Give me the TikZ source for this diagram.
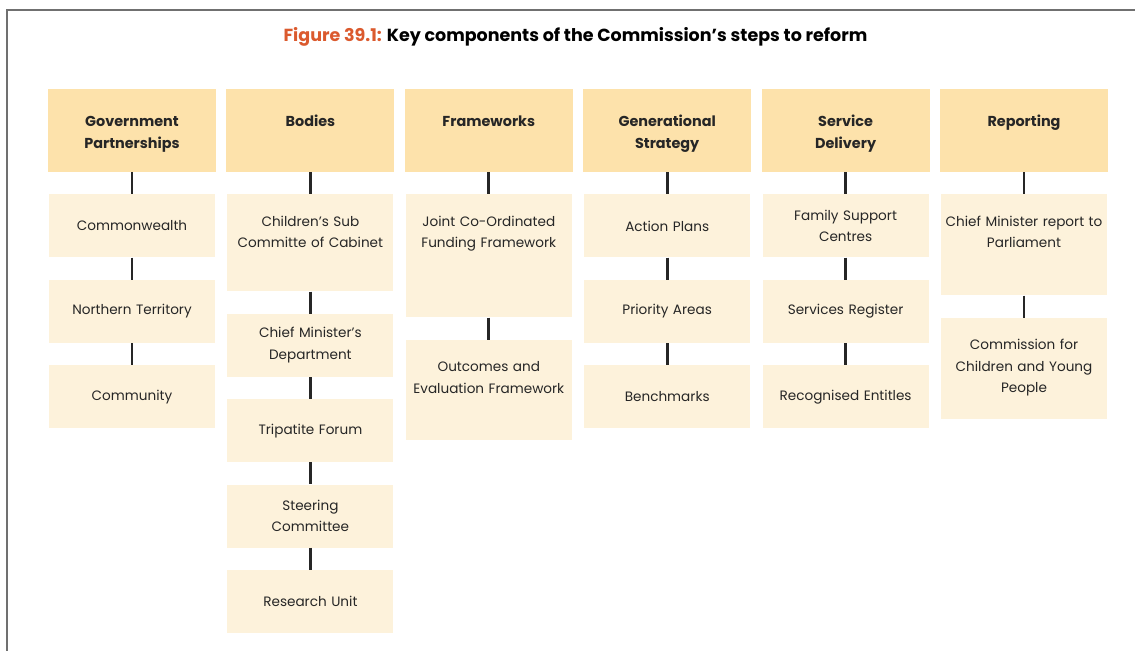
\documentclass[tikz,border=0pt]{standalone}
\usepackage{fontspec}
\setmainfont{Poppins}
\usetikzlibrary{positioning}

\definecolor{headfill}{HTML}{FDE2AB}
\definecolor{cellfill}{HTML}{FDF2DB}
\definecolor{inkgrey}{HTML}{262626}
\definecolor{figred}{HTML}{DB5A2E}
\definecolor{framegrey}{HTML}{707070}

\begin{document}
\begin{tikzpicture}[
  x=1pt, y=-1pt,
  font=\fontsize{13.6}{21.5}\selectfont,
  text=inkgrey,
  head/.style={fill=headfill, text width=166pt, minimum width=168pt,
               align=center, inner xsep=0pt, inner ysep=0pt,
               text height=37.5pt, text depth=45.5pt,
               font=\fontsize{14.4}{21.5}\selectfont\bfseries},
  cell/.style={fill=cellfill, text width=164pt, minimum width=166pt,
               minimum height=63pt, align=center,
               inner xsep=0pt, inner ysep=0pt},
  tallcell/.style={cell, minimum height=0pt, text height=32pt, text depth=#1},
  link/.style={draw=inkgrey, line width=2.8pt},
]

\fill[white] (0,0) rectangle (1135,651);
\useasboundingbox (0,0) rectangle (1135,651);

% frame and title
\draw[framegrey, line width=1.3pt] (1135,10) -- (7,10) -- (7,651);
\node[font=\fontsize{17.5}{20}\selectfont\bfseries, text=black] (title) at (575.5,37)
  {\textcolor{figred}{Figure 39.1:} Key components of the Commission’s steps to reform};

% Six heading boxes in a row
\node[head] (gov) at (132,130.5) {Government\\Partnerships};
\node[head, right=10pt of gov]  (bod) {Bodies};
\node[head, right=10pt of bod]  (fra) {Frameworks};
\node[head, right=10pt of fra]  (gen) {Generational\\Strategy};
\node[head, right=10pt of gen]  (ser) {Service\\Delivery};
\node[head, right=10pt of ser]  (rep) {Reporting};

% --- Government Partnerships ---
\node[cell, below=22pt of gov] (cwlth) {Commonwealth};
\node[cell, below=22pt of cwlth] (nt)  {Northern Territory};
\node[cell, below=22pt of nt]    (comm) {Community};

% --- Bodies ---
\node[tallcell=65pt, below=22pt of bod] (subc) {Children’s Sub\\Committe of Cabinet};
\node[cell, below=22pt of subc]  (cmd)   {Chief Minister’s\\Department};
\node[cell, below=22pt of cmd]   (tri)   {Tripatite Forum};
\node[cell, below=22pt of tri]   (steer) {Steering\\Committee};
\node[cell, below=22pt of steer] (resu)  {Research Unit};

% --- Frameworks ---
\node[tallcell=91pt, below=22pt of fra]  (jcff) {Joint Co-Ordinated\\Funding Framework};
\node[tallcell=68pt, below=22pt of jcff] (oef)  {Outcomes and\\Evaluation Framework};

% --- Generational Strategy ---
\node[cell, below=22pt of gen] (act)  {Action Plans};
\node[cell, below=22pt of act] (pri)  {Priority Areas};
\node[cell, below=22pt of pri] (bench) {Benchmarks};

% --- Service Delivery ---
\node[cell, below=22pt of ser]  (fsc)  {Family Support\\Centres};
\node[cell, below=22pt of fsc]  (sreg) {Services Register};
\node[cell, below=22pt of sreg] (rent) {Recognised Entitles};

% --- Reporting ---
\node[tallcell=69pt, below=22pt of rep] (cmrp) {Chief Minister report to\\Parliament};
\node[tallcell=69pt, below=22pt of cmrp] (ccyp) {Commission for\\Children and Young\\People};

% connectors
\draw[link] (gov) -- (cwlth) (cwlth) -- (nt) (nt) -- (comm);
\draw[link] (bod) -- (subc) (subc) -- (cmd) (cmd) -- (tri) (tri) -- (steer) (steer) -- (resu);
\draw[link] (fra) -- (jcff) (jcff) -- (oef);
\draw[link] (gen) -- (act) (act) -- (pri) (pri) -- (bench);
\draw[link] (ser) -- (fsc) (fsc) -- (sreg) (sreg) -- (rent);
\draw[link] (rep) -- (cmrp) (cmrp) -- (ccyp);

\end{tikzpicture}
\end{document}
